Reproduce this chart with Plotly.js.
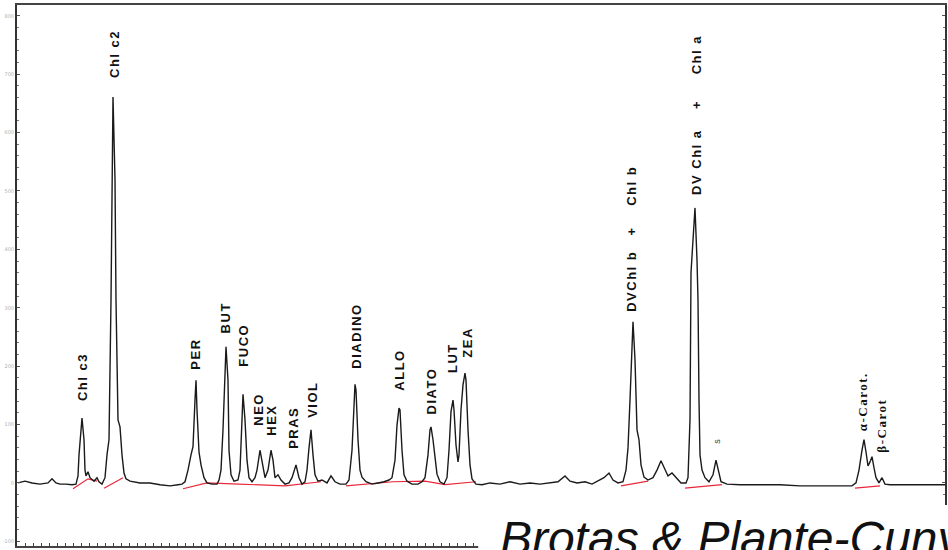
<!DOCTYPE html>
<html>
<head>
<meta charset="utf-8">
<script src="https://cdn.plot.ly/plotly-3.0.1.min.js"></script>
<style>html,body{margin:0;padding:0;background:#fff;}#chart{width:948px;height:550px;}</style>
</head>
<body>
<div id="chart"></div>
<script>
// Retention time (min) and detector signal (mAU)
const time = [0.05,0.4,0.75,1.15,1.55,1.75,1.95,2.15,2.45,2.75,2.95,3.05,3.1,3.15,3.25,3.35,3.4,3.45,3.55,3.65,3.85,4.0,4.1,4.25,
  4.4,4.5,4.6,4.7,4.8,4.9,4.95,5.05,5.15,5.25,5.35,5.45,5.65,6.15,6.65,7.15,7.65,8.05,8.25,
  8.4,8.55,8.7,8.8,8.9,8.95,9.0,9.1,9.2,9.35,9.5,9.75,10.0,
  10.1,10.2,10.3,10.45,10.55,10.6,10.7,10.85,11.05,
  11.15,11.3,11.4,11.5,11.6,11.75,11.9,
  12.0,12.15,12.25,12.4,12.55,
  12.7,12.8,12.9,13.05,13.2,13.4,13.6,13.75,
  13.95,14.1,14.25,14.4,14.5,14.6,
  14.7,14.8,14.9,15.05,15.25,15.5,15.7,15.9,16.15,16.45,
  16.6,16.75,16.85,16.9,16.95,17.05,17.15,17.25,17.45,17.75,18.05,18.35,18.6,18.75,
  18.9,19.0,19.1,19.15,19.25,19.35,19.5,19.75,20.05,20.25,20.4,
  20.55,20.65,20.7,20.8,20.9,21.0,21.15,21.35,21.5,
  21.6,21.7,21.8,21.85,21.95,22.05,22.1,
  22.2,22.3,22.4,22.45,22.55,22.65,22.75,22.95,23.25,23.65,24.15,24.65,25.15,25.65,26.15,26.65,27.05,27.4,27.65,28.0,28.4,28.75,29.05,29.35,29.6,29.8,30.05,30.3,
  30.45,30.55,30.65,30.8,30.9,31.0,31.1,31.2,31.35,31.55,31.8,32.0,32.2,32.35,32.55,32.75,32.95,33.2,33.45,
  33.55,33.65,33.7,33.8,33.9,34.0,34.05,34.1,34.15,34.25,34.4,34.6,34.8,34.95,35.05,35.2,35.5,36.15,37.15,38.15,39.15,40.15,41.15,41.75,
  41.95,42.1,42.25,42.35,42.45,42.55,42.65,42.75,42.85,42.95,43.1,43.25,43.4,43.65,44.15,45.15,46.4];
const signal = [0,3,0,-2,0,7,0,-2,-2,-3,-2,12,48,74,111,74,22,12,19,9,3,9,2,-2,
  9,48,74,313,661,519,313,108,96,48,17,7,3,0,0,-3,-5,-3,-2,
  2,22,48,62,142,176,125,53,31,9,0,-2,-2,
  5,22,91,233,176,56,14,3,5,
  22,152,108,39,9,2,9,
  22,56,36,9,22,
  56,39,9,14,5,-2,0,9,
  31,9,-2,2,22,60,
  91,48,14,3,5,0,12,2,-2,-2,
  5,56,142,169,159,74,22,10,2,-2,0,2,5,9,
  39,99,128,125,56,14,3,-2,-2,2,9,
  48,91,96,74,39,15,2,-2,9,
  56,122,142,125,65,36,48,
  125,168,188,176,91,31,7,-2,-3,0,-2,2,-2,0,-2,0,2,12,3,0,2,-2,3,9,17,5,0,2,
  22,60,142,276,211,91,74,31,10,5,9,22,38,26,12,17,9,0,0,
  9,108,360,416,471,382,313,142,48,22,9,2,14,39,22,2,-2,-3,-3,-3,-5,-5,-5,-5,
  0,22,56,74,53,29,36,45,26,9,0,9,-2,-3,-3,-3,-3];

// Integration baselines (red), segments separated by null
const baseTime = [2.8,3.55,4.0,null,4.35,5.3,null,8.3,9.5,11.1,13.4,15.2,null,16.45,18.8,20.4,21.4,22.95,null,30.2,31.55,null,33.4,35.25,null,41.9,43.15];
const baseSignal = [-10,7,3,null,-9,9,null,-10,0,-2,-5,2,null,-5,2,3,-3,2,null,-5,3,null,-9,-3,null,-9,-5];

// Identified pigments: names, apex time, apex height
const NB = '\u00a0';
const peakNames = ["Chl c3","Chl c2","PER","BUT","FUCO","NEO","HEX","PRAS","VIOL","DIADINO","ALLO","DIATO","LUT","ZEA",
  "DVChl b"+NB.repeat(3)+"+"+NB.repeat(4)+"Chl b","DV Chl a"+NB.repeat(4)+"+"+NB.repeat(5)+"Chl a","s","α-Carot.","β-Carot"];
const peakTimes = [3.25,4.8,8.95,10.45,11.3,12.15,12.7,13.95,14.7,16.9,19.1,20.7,21.8,22.4,30.8,33.9,34.95,42.35,42.75];
const peakHeights = [111,661,176,233,152,56,56,31,91,169,128,96,142,188,276,471,39,74,45];

const yTickVals = [-100,0,100,200,300,400,500,600,700,800];
const yTickText = ["-100","0","100","200","300","400","500","600","700","800"];

// label placement (style)
const labelGap = [15,17,8,11,25,22,12,14,10,13,15,10,25,13,8,11,14,6,2];
const labelDx  = [0,2,0,-1,1,-1,1,-2,2,2,1,0,-1,3,-1,2,1,-2,10];

const annotations = peakNames.map((n,i)=>{
  const serif = n.indexOf('Carot')>=0;
  const small = n === 's';
  return {
    x: peakTimes[i], y: peakHeights[i], xref:'x', yref:'y',
    text: small ? n : '<span style="letter-spacing:1.5px">'+n+'</span>',
    textangle: -90, showarrow:false,
    xanchor:'center', yanchor:'bottom',
    yshift: labelGap[i], xshift: labelDx[i],
    font: {family: serif ? 'Liberation Serif' : 'Liberation Sans', size: small ? 9 : 13,
           weight: small ? 'normal' : 'bold', color: small ? '#444' : '#111'}
  };
});
annotations.push({
  xref:'paper', yref:'paper', x:0.518, y:0.066, xanchor:'left', yanchor:'top',
  text:'Brotas &amp; Plante-Cuny', showarrow:false,
  font:{family:'Liberation Sans', size:48, style:'italic', color:'#111'}
});

const traces = [
  {x: baseTime, y: baseSignal, mode:'lines', line:{color:'#e8283a', width:1.2}, connectgaps:false, hoverinfo:'skip'},
  {x: time, y: signal, mode:'lines', line:{color:'#1a1a1a', width:1.4}, hoverinfo:'skip'}
];

const layout = {
  width:948, height:550,
  margin:{l:17, r:3, t:5, b:4},
  paper_bgcolor:'#fff', plot_bgcolor:'#fff',
  showlegend:false,
  xaxis:{range:[0,46.4], showgrid:false, zeroline:false, showline:true, linecolor:'#444', linewidth:2,
         mirror:true, ticks:'inside', ticklen:3, tickcolor:'#444', dtick:0.4, tick0:0, showticklabels:false},
  yaxis:{range:[-108,818.5], showgrid:false, zeroline:false, showline:true, linecolor:'#333', linewidth:2,
         mirror:'ticks', ticks:'inside', ticklen:3, tickcolor:'#555', tickvals:yTickVals, ticktext:yTickText,
         tickfont:{size:5, color:'#b0b0b0', family:'DejaVu Sans'},
         minor:{dtick:20, ticks:'inside', ticklen:2, tickcolor:'#777'}},
  shapes:[{type:'rect', xref:'paper', yref:'paper', x0:0.497, x1:1.05, y0:-0.05, y1:0.076,
           fillcolor:'#fff', line:{width:0}, layer:'above'}],
  annotations: annotations
};

Plotly.newPlot('chart', traces, layout, {staticPlot:true, displayModeBar:false});
</script>
</body>
</html>
